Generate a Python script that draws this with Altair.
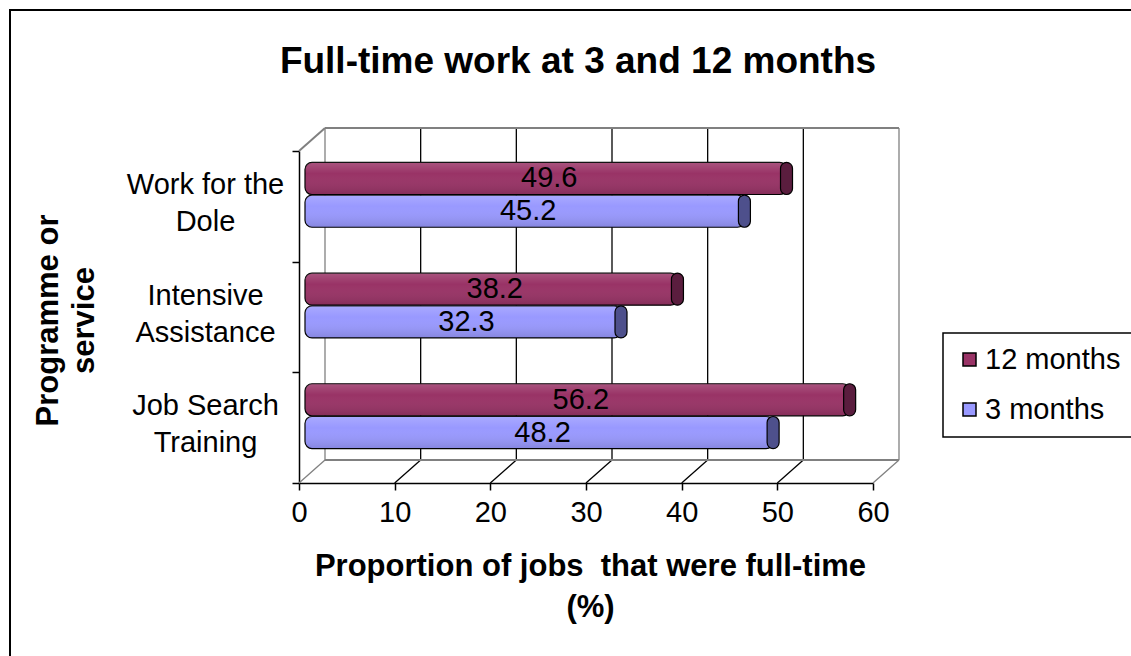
import altair as alt
import pandas as pd

# ---- data ----
categories = ["Work for the Dole", "Intensive Assistance", "Job Search Training"]
series_names = ["12 months", "3 months"]
months_12 = [49.6, 38.2, 56.2]
months_3 = [45.2, 32.3, 48.2]
x_ticks = [0, 10, 20, 30, 40, 50, 60]
series_colors = ["#993366", "#9999FF"]
cap_colors = ["#5a1d3e", "#4e508c"]

# ---- layout constants ----
W, H = 600, 355          # plot area (3-D box bounding box)
FRONT = 574              # pixel length of 0..60 on the front axis
DX, DY = 26, 23          # depth offset of the back wall
FONT = "Liberation Sans"
GRAY = "#808080"

rows = []
for c, a, b in zip(categories, months_12, months_3):
    rows.append({"cat": c, "series": series_names[0], "v": a})
    rows.append({"cat": c, "series": series_names[1], "v": b})
bars_df = pd.DataFrame(rows)
grid_df = pd.DataFrame({"v": x_ticks})
cat_df = pd.DataFrame({"cat": categories})
one = pd.DataFrame({"k": [0]})

xscale = alt.Scale(domain=[0, 60], range=[0, FRONT], nice=False)
front_y = alt.Scale(domain=categories, range=[DY, H], paddingInner=0, paddingOuter=0)
mid_y = alt.Scale(domain=categories, range=[DY / 2, H - DY / 2], paddingInner=0, paddingOuter=0)
off_scale = alt.Scale(domain=series_names, paddingInner=0.02, paddingOuter=0.7)

# shared x axis definition (identical in every layer so the merge keeps it)
x_axis = alt.Axis(
    values=x_ticks, tickSize=7, tickColor="black", tickWidth=1.5,
    domainColor="black", domainWidth=1.5, grid=False, labelFlush=False,
    labelFont=FONT, labelFontSize=29, labelColor="black", labelPadding=8,
    title=["Proportion of jobs \u00a0that were full-time", "(%)"], titleFont=FONT,
    titleFontSize=31, titleFontWeight="bold", titleColor="black",
    titleX=291, titleY=83, titleAlign="center", titleBaseline="middle", titleLineHeight=41,
)


def X(*args, **kw):
    return alt.X(*args, scale=xscale, axis=x_axis, **kw)


# ---- 3-D frame ----
edge = "datum.v == 0 || datum.v == 60"
grid_color = alt.condition(edge, alt.value(GRAY), alt.value("black"))

border = alt.Chart(one).mark_rect(fillOpacity=0, stroke="black", strokeWidth=2).encode(
    x=alt.value(-289), x2=alt.value(W + 260), y=alt.value(-118), y2=alt.value(H + 200)
)

back_grid = alt.Chart(grid_df).mark_rule(xOffset=DX, strokeWidth=1.3).encode(
    x=X("v:Q"),
    y=alt.value(0), y2=alt.value(H - DY),
    color=grid_color,
)
floor = alt.Chart(grid_df).mark_rule(x2Offset=DX, strokeWidth=1.3).encode(
    x=X("v:Q"), x2=alt.X2("v"),
    y=alt.value(H), y2=alt.value(H - DY),
    color=grid_color,
)
top_edge = alt.Chart(one).mark_rule(xOffset=DX, x2Offset=DX, strokeWidth=2, color=GRAY).encode(
    x=X(datum=0), x2=alt.X2(datum=60), y=alt.value(0)
)
back_bottom = alt.Chart(one).mark_rule(xOffset=DX, x2Offset=DX, strokeWidth=2, color=GRAY).encode(
    x=X(datum=0), x2=alt.X2(datum=60), y=alt.value(H - DY)
)
left_diag = alt.Chart(one).mark_rule(x2Offset=DX, strokeWidth=2, color=GRAY).encode(
    x=X(datum=0), x2=alt.X2(datum=0), y=alt.value(DY), y2=alt.value(0)
)

# ---- front category axis ----
label_expr = (
    "datum.label == 'Work for the Dole' ? ['Work for the', 'Dole'] : "
    "datum.label == 'Job Search Training' ? ['Job Search', 'Training'] : split(datum.label, ' ')"
)
yaxis_layer = alt.Chart(cat_df).mark_point(opacity=0).encode(
    y=alt.Y(
        "cat:N", scale=front_y, sort=categories,
        axis=alt.Axis(
            title=["Programme or", "service"], titleFont=FONT, titleFontSize=31,
            titleFontWeight="bold", titleColor="black", titleAngle=270,
            titleX=-251, titleY=192, titleAlign="center", titleBaseline="middle",
            titleLineHeight=36,
            labelFont=FONT, labelFontSize=29, labelColor="black", labelLineHeight=37,
            labelAlign="center", labelBaseline="middle", labelPadding=87, labelLimit=400,
            labelOffset=-22,
            labelExpr=label_expr, tickBand="extent", tickSize=7, tickColor="black",
            tickWidth=1.5, domainColor="black", domainWidth=1.5, grid=False,
        ),
    )
)

# ---- bars ----
y_mid = alt.Y("cat:N", scale=mid_y, sort=categories, axis=None)
yoff = alt.YOffset("series:N", scale=off_scale, sort=series_names)
base = alt.Chart(bars_df)

bars = base.mark_bar(
    stroke="black", strokeWidth=1.2, cornerRadius=7, xOffset=DX / 2, x2Offset=6
).encode(
    x=X("v:Q"),
    x2=alt.X2(datum=0),
    y=y_mid, yOffset=yoff,
    color=alt.Color(
        "series:N", sort=series_names,
        scale=alt.Scale(domain=series_names, range=series_colors),
        legend=alt.Legend(
            title=None, orient="none", legendX=644, legendY=205,
            strokeColor="black", fillColor="white", padding=12,
            labelFont=FONT, labelFontSize=29, labelColor="black", labelOffset=1,
            symbolType="square", symbolSize=169, symbolStrokeColor="black",
            symbolStrokeWidth=1.5, symbolOpacity=1, rowPadding=20, labelLimit=400,
        ),
    ),
)

shade = alt.Gradient(
    gradient="linear", x1=0, x2=0, y1=0, y2=1,
    stops=[
        alt.GradientStop(color="rgba(255,255,255,0.16)", offset=0),
        alt.GradientStop(color="rgba(255,255,255,0)", offset=0.35),
        alt.GradientStop(color="rgba(0,0,0,0.13)", offset=1),
    ],
)
overlay = base.mark_bar(
    fill=shade, cornerRadius=7, xOffset=DX / 2, x2Offset=6, strokeOpacity=0
).encode(
    x=X("v:Q"), x2=alt.X2(datum=0),
    y=y_mid, yOffset=yoff,
)

caps = base.mark_bar(
    stroke="black", strokeWidth=1.2, cornerRadius=6, xOffset=DX / 2 + 6, x2Offset=DX / 2 - 6
).encode(
    x=X("v:Q"), x2=alt.X2("v"),
    y=y_mid, yOffset=yoff,
    fill=alt.condition(
        f"datum.series == '{series_names[0]}'", alt.value(cap_colors[0]), alt.value(cap_colors[1])
    ),
)

labels = base.transform_calculate(mid="datum.v / 2").mark_text(
    font=FONT, fontSize=29, color="black", baseline="middle", align="center", xOffset=DX / 2
).encode(
    x=X("mid:Q"),
    y=y_mid, yOffset=yoff,
    text=alt.Text("v:Q", format=".1f"),
)

title = alt.Chart(one).mark_text(
    text="Full-time work at 3 and 12 months", font=FONT, fontSize=37, fontWeight="bold",
    color="black", align="center", baseline="middle",
).encode(x=alt.value(279), y=alt.value(-66))

chart = (
    alt.layer(border, back_grid, floor, top_edge, back_bottom, left_diag,
              yaxis_layer, bars, overlay, caps, labels, title)
    .resolve_scale(y="independent")
    .properties(
        width=W, height=H,
        padding={"left": 299, "top": 128, "right": 232, "bottom": 173},
        autosize=alt.AutoSizeParams(type="none"),
        background="white",
    )
    .configure_view(stroke="transparent")
    .configure_legend(strokeWidth=1.5)
)

chart.save("out.html", embed_options={"renderer": "svg", "actions": False})
